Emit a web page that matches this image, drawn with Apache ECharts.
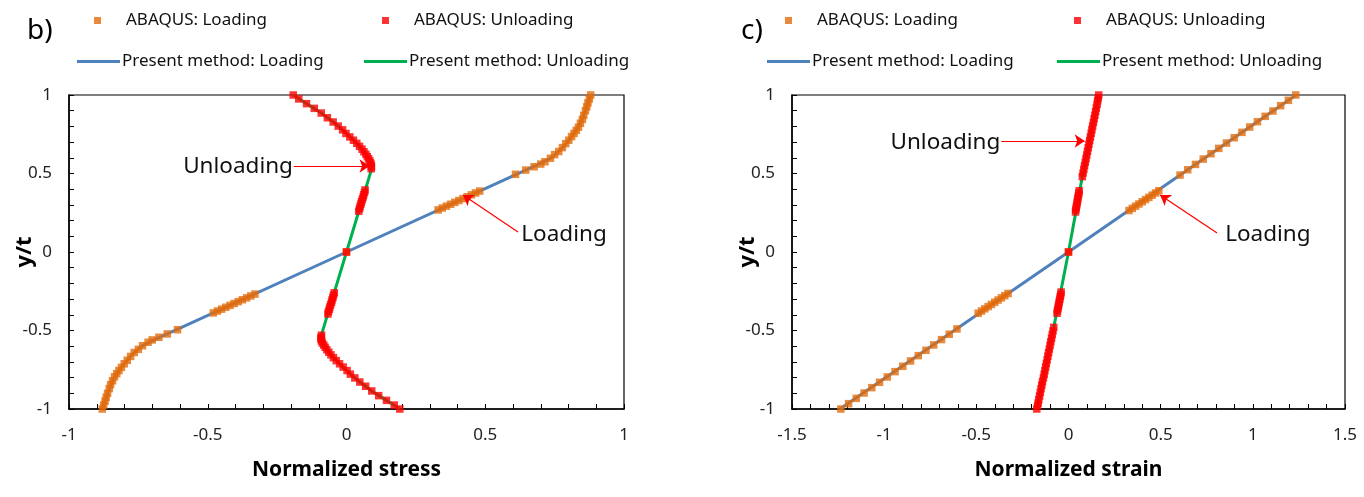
<!DOCTYPE html>
<html>
<head>
<meta charset="utf-8">
<script src="https://cdn.jsdelivr.net/npm/echarts@6/dist/echarts.min.js"></script>
<style>
html,body{margin:0;padding:0;background:#fff;}
#chart{width:1364px;height:497px;}
</style>
</head>
<body>
<div id="chart"></div>
<script>
// ---------- DATA ----------
const seriesNames = ['ABAQUS: Loading', 'ABAQUS: Unloading', 'Present method: Loading', 'Present method: Unloading'];
const panelLabels = ['b)', 'c)'];
const xAxisNames = ['Normalized stress', 'Normalized strain'];
const yAxisName = 'y/t';

// Panel b) : normalized stress vs y/t
const stressLoadingAbaqus = [
  [-0.880,-1.000],[-0.875,-0.975],[-0.870,-0.950],[-0.866,-0.925],[-0.861,-0.900],[-0.855,-0.870],[-0.850,-0.845],
  [-0.843,-0.820],[-0.836,-0.795],[-0.828,-0.775],[-0.820,-0.755],[-0.811,-0.735],[-0.801,-0.712],[-0.790,-0.690],
  [-0.778,-0.665],[-0.765,-0.640],[-0.750,-0.620],[-0.735,-0.597],[-0.715,-0.575],[-0.700,-0.560],[-0.676,-0.543],
  [-0.646,-0.522],[-0.609,-0.495],
  [-0.480,-0.388],[-0.465,-0.376],[-0.450,-0.364],[-0.435,-0.352],[-0.420,-0.340],[-0.405,-0.328],[-0.390,-0.316],
  [-0.375,-0.304],[-0.360,-0.292],[-0.345,-0.280],[-0.330,-0.268],
  [0.000,0.000],
  [0.330,0.268],[0.345,0.280],[0.360,0.292],[0.375,0.304],[0.390,0.316],[0.405,0.328],[0.420,0.340],[0.435,0.352],
  [0.450,0.364],[0.465,0.376],[0.480,0.388],
  [0.609,0.495],[0.646,0.522],[0.676,0.543],[0.700,0.560],[0.715,0.575],[0.735,0.597],[0.750,0.620],[0.765,0.640],
  [0.778,0.665],[0.790,0.690],[0.801,0.712],[0.811,0.735],[0.820,0.755],[0.828,0.775],[0.836,0.795],[0.843,0.820],
  [0.850,0.845],[0.855,0.870],[0.861,0.900],[0.866,0.925],[0.870,0.950],[0.875,0.975],[0.880,1.000]
];
const stressUnloadingAbaqus = [
  [0.192,-1.000],[0.172,-0.975],[0.144,-0.945],[0.116,-0.915],[0.091,-0.885],[0.069,-0.855],[0.048,-0.828],
  [0.030,-0.802],[0.014,-0.778],[0.002,-0.755],[-0.012,-0.733],[-0.025,-0.712],[-0.037,-0.692],[-0.047,-0.673],
  [-0.056,-0.655],[-0.064,-0.638],[-0.071,-0.622],[-0.077,-0.607],[-0.082,-0.593],[-0.087,-0.580],[-0.090,-0.567],
  [-0.092,-0.555],[-0.092,-0.543],[-0.090,-0.530],
  [-0.067,-0.395],[-0.065,-0.380],[-0.062,-0.365],[-0.060,-0.350],[-0.057,-0.335],[-0.054,-0.320],[-0.052,-0.305],
  [-0.049,-0.290],[-0.047,-0.275],[-0.044,-0.260],
  [0.000,0.000],
  [0.044,0.260],[0.047,0.275],[0.049,0.290],[0.052,0.305],[0.054,0.320],[0.057,0.335],[0.060,0.350],[0.062,0.365],
  [0.065,0.380],[0.067,0.395],
  [0.089,0.530],[0.090,0.543],[0.089,0.555],[0.087,0.567],[0.084,0.580],[0.080,0.593],[0.075,0.607],[0.070,0.622],
  [0.063,0.638],[0.056,0.655],[0.047,0.673],[0.037,0.692],[0.025,0.712],[0.012,0.733],[-0.002,0.755],[-0.014,0.778],
  [-0.030,0.802],[-0.048,0.828],[-0.069,0.855],[-0.091,0.885],[-0.116,0.915],[-0.144,0.945],[-0.172,0.975],[-0.192,1.000]
];
const stressLoadingPresent = [
  [-0.880,-1.00],[-0.870,-0.95],[-0.861,-0.90],[-0.850,-0.85],[-0.836,-0.80],[-0.817,-0.75],[-0.796,-0.70],
  [-0.771,-0.65],[-0.738,-0.60],[-0.682,-0.55],[-0.612,-0.495],[0.000,0.00],[0.612,0.495],[0.682,0.55],
  [0.738,0.60],[0.771,0.65],[0.796,0.70],[0.817,0.75],[0.836,0.80],[0.850,0.85],[0.861,0.90],[0.870,0.95],[0.880,1.00]
];
const stressUnloadingPresent = [
  [0.192,-1.000],[0.144,-0.945],[0.091,-0.885],[0.048,-0.828],[0.014,-0.778],[-0.025,-0.712],[-0.056,-0.655],
  [-0.077,-0.607],[-0.090,-0.567],[-0.092,-0.543],[-0.089,-0.520],[0.000,0.000],[0.089,0.520],[0.090,0.543],
  [0.087,0.567],[0.075,0.607],[0.056,0.655],[0.025,0.712],[-0.014,0.778],[-0.048,0.828],[-0.091,0.885],
  [-0.144,0.945],[-0.192,1.000]
];

// Panel c) : normalized strain vs y/t
const strainLoadingAbaqus = [
  [-1.235,-1.000],[-1.193,-0.966],[-1.151,-0.932],[-1.109,-0.898],[-1.067,-0.864],[-1.025,-0.830],[-0.983,-0.796],
  [-0.941,-0.762],[-0.899,-0.728],[-0.857,-0.694],[-0.815,-0.660],[-0.773,-0.626],[-0.731,-0.592],[-0.689,-0.558],
  [-0.647,-0.524],[-0.605,-0.490],
  [-0.490,-0.390],[-0.472,-0.376],[-0.454,-0.362],[-0.436,-0.348],[-0.418,-0.334],[-0.400,-0.320],[-0.382,-0.306],
  [-0.364,-0.292],[-0.346,-0.278],[-0.328,-0.264],
  [0.000,0.000],
  [0.328,0.264],[0.346,0.278],[0.364,0.292],[0.382,0.306],[0.400,0.320],[0.418,0.334],[0.436,0.348],[0.454,0.362],
  [0.472,0.376],[0.490,0.390],
  [0.605,0.490],[0.647,0.524],[0.689,0.558],[0.731,0.592],[0.773,0.626],[0.815,0.660],[0.857,0.694],[0.899,0.728],
  [0.941,0.762],[0.983,0.796],[1.025,0.830],[1.067,0.864],[1.109,0.898],[1.151,0.932],[1.193,0.966],[1.233,1.000]
];
const strainUnloadingAbaqus = [
  [-0.172,-1.000],[-0.168,-0.981],[-0.165,-0.962],[-0.161,-0.940],[-0.157,-0.917],[-0.153,-0.894],[-0.149,-0.871],
  [-0.145,-0.848],[-0.141,-0.825],[-0.136,-0.802],[-0.132,-0.779],[-0.128,-0.756],[-0.124,-0.733],[-0.120,-0.710],
  [-0.116,-0.687],[-0.112,-0.664],[-0.108,-0.641],[-0.104,-0.618],[-0.100,-0.595],[-0.096,-0.572],[-0.092,-0.549],
  [-0.088,-0.526],[-0.084,-0.503],[-0.080,-0.480],
  [-0.062,-0.390],[-0.060,-0.375],[-0.057,-0.360],[-0.055,-0.345],[-0.052,-0.330],[-0.050,-0.315],[-0.047,-0.300],
  [-0.045,-0.285],[-0.042,-0.270],[-0.040,-0.255],
  [0.000,0.000],
  [0.038,0.255],[0.040,0.270],[0.042,0.285],[0.045,0.300],[0.047,0.315],[0.049,0.330],[0.051,0.345],[0.054,0.360],
  [0.056,0.375],[0.058,0.390],
  [0.075,0.480],[0.079,0.503],[0.083,0.526],[0.087,0.549],[0.091,0.572],[0.095,0.595],[0.099,0.618],[0.103,0.641],
  [0.107,0.664],[0.111,0.687],[0.115,0.710],[0.119,0.733],[0.123,0.756],[0.127,0.779],[0.131,0.802],[0.135,0.825],
  [0.139,0.848],[0.143,0.871],[0.147,0.894],[0.151,0.917],[0.155,0.940],[0.158,0.962],[0.161,0.981],[0.164,1.000]
];
const strainLoadingPresent = [[-1.240,-1.000],[0.000,0.000],[1.235,1.000]];
const strainUnloadingPresent = [[-0.172,-1.000],[-0.080,-0.480],[0.000,0.000],[0.075,0.480],[0.164,1.000]];

// Annotation anchors (data coordinates)
const annotations = [
  {grid:0, text:'Unloading', from:[-0.190,0.548], to:[0.083,0.548], textAt:[-0.193,0.545], align:'right'},
  {grid:0, text:'Loading',   from:[0.618,0.127],  to:[0.420,0.363], textAt:[0.630,0.108], align:'left'},
  {grid:1, text:'Unloading', from:[-0.365,0.707], to:[0.088,0.707], textAt:[-0.370,0.700], align:'right'},
  {grid:1, text:'Loading',   from:[0.806,0.121],  to:[0.497,0.363], textAt:[0.850,0.108], align:'left'}
];

// ---------- STYLE ----------
const C_ORANGE = '#e46c0a', C_RED = '#ff0000', C_BLUE = '#4f81bd', C_GREEN = '#00b050';
const FONT = "'Noto Sans', 'DejaVu Sans', sans-serif";

function axisCommon(margin){
  return {
    axisLine:{show:true, onZero:false, lineStyle:{color:'#000', width:1.5}},
    axisTick:{show:true, inside:true, length:5, lineStyle:{color:'#000', width:1}},
    minorTick:{show:true, splitNumber:5, length:5, lineStyle:{color:'#000', width:1}},
    splitLine:{show:false},
    axisLabel:{color:'#222', fontFamily:FONT, fontSize:17, margin}
  };
}

const grids = [
  {left:69, top:95, width:555, height:314, show:true, borderColor:'#000', borderWidth:1.2, backgroundColor:'transparent'},
  {left:792, top:95, width:553, height:314, show:true, borderColor:'#000', borderWidth:1.2, backgroundColor:'transparent'}
];
const xRanges = [[-1,1],[-1.5,1.5]];

const xAxes = grids.map((g,i)=>Object.assign(axisCommon(18), {
  type:'value', gridIndex:i, min:xRanges[i][0], max:xRanges[i][1], interval:0.5,
  name:xAxisNames[i], nameLocation:'middle', nameGap:51, nameMoveOverlap:false,
  nameTextStyle:{fontFamily:FONT, fontSize:21, fontWeight:'bold', color:'#000'}
}));
const yAxes = grids.map((g,i)=>Object.assign(axisCommon(17), {
  type:'value', gridIndex:i, min:-1, max:1, interval:0.5,
  name:yAxisName, nameLocation:'middle', nameGap:33, nameRotate:90, nameMoveOverlap:false,
  nameTextStyle:{fontFamily:FONT, fontSize:22, fontWeight:'bold', color:'#000'}
}));

function scatterSeries(name, data, color, gi){
  return {name, type:'scatter', xAxisIndex:gi, yAxisIndex:gi, data, symbol:'rect', symbolSize:7.5,
    itemStyle:{color}, z:3, silent:true};
}
function lineSeries(name, data, color, gi){
  return {name, type:'line', xAxisIndex:gi, yAxisIndex:gi, data, showSymbol:false, symbol:'none',
    lineStyle:{color, width:3}, itemStyle:{color}, z:2, silent:true};
}

const series = [
  lineSeries(seriesNames[2], stressLoadingPresent, C_BLUE, 0),
  lineSeries(seriesNames[3], stressUnloadingPresent, C_GREEN, 0),
  scatterSeries(seriesNames[0], stressLoadingAbaqus, C_ORANGE, 0),
  scatterSeries(seriesNames[1], stressUnloadingAbaqus, C_RED, 0),
  lineSeries(seriesNames[2], strainLoadingPresent, C_BLUE, 1),
  lineSeries(seriesNames[3], strainUnloadingPresent, C_GREEN, 1),
  scatterSeries(seriesNames[0], strainLoadingAbaqus, C_ORANGE, 1),
  scatterSeries(seriesNames[1], strainUnloadingAbaqus, C_RED, 1)
];

// Arrows via markLine on an extra series per grid
[0,1].forEach(gi=>{
  series.push({
    name:'annot'+gi, type:'line', xAxisIndex:gi, yAxisIndex:gi, data:[], silent:true, z:5,
    markLine:{
      silent:true, animation:false, symbol:['none','arrow'], symbolSize:10, precision:4, z:5,
      lineStyle:{color:C_RED, width:1.2, type:'solid', opacity:1}, label:{show:false},
      emphasis:{disabled:true},
      data: annotations.filter(a=>a.grid===gi).map(a=>[
        {coord:a.from, symbol:'none'},
        {coord:a.to, symbol:'arrow', symbolSize:10}
      ])
    }
  });
});

function legendItem(name, left, top, isLine){
  return {
    data:[name], left, top, padding:0, selectedMode:false,
    icon:'rect', itemWidth:isLine?43:7, itemHeight:isLine?3:7, itemGap:0,
    textStyle:{fontFamily:FONT, fontSize:17, color:'#111', padding: isLine?[0,0,0,-3]:[0,0,0,20]}
  };
}
const legends = [
  legendItem(seriesNames[0], 94, 12, false),
  legendItem(seriesNames[1], 382, 12, false),
  legendItem(seriesNames[2], 77, 53, true),
  legendItem(seriesNames[3], 364, 53, true),
  legendItem(seriesNames[0], 785, 12, false),
  legendItem(seriesNames[1], 1074, 12, false),
  legendItem(seriesNames[2], 767, 53, true),
  legendItem(seriesNames[3], 1057, 53, true)
];

const option = {
  animation:false,
  backgroundColor:'#fff',
  title:[
    {text:panelLabels[0], left:22, top:12, textStyle:{fontFamily:FONT, fontSize:28, fontWeight:'normal', color:'#000'}},
    {text:panelLabels[1], left:736, top:12, textStyle:{fontFamily:FONT, fontSize:28, fontWeight:'normal', color:'#000'}}
  ],
  legend:legends,
  grid:grids,
  xAxis:xAxes,
  yAxis:yAxes,
  series
};

const chart = echarts.init(document.getElementById('chart'), null, {renderer:'canvas'});
chart.setOption(option);

// Annotation texts, positioned from data coordinates
const texts = annotations.map(a=>{
  const p = chart.convertToPixel({gridIndex:a.grid}, a.textAt);
  return {type:'text', x:p[0], y:p[1], silent:true, z:10,
    style:{text:a.text, font:"22.5px 'Noto Sans', sans-serif", fill:'#111', align:a.align, verticalAlign:'middle'}};
});
chart.setOption({graphic:texts});
</script>
</body>
</html>
